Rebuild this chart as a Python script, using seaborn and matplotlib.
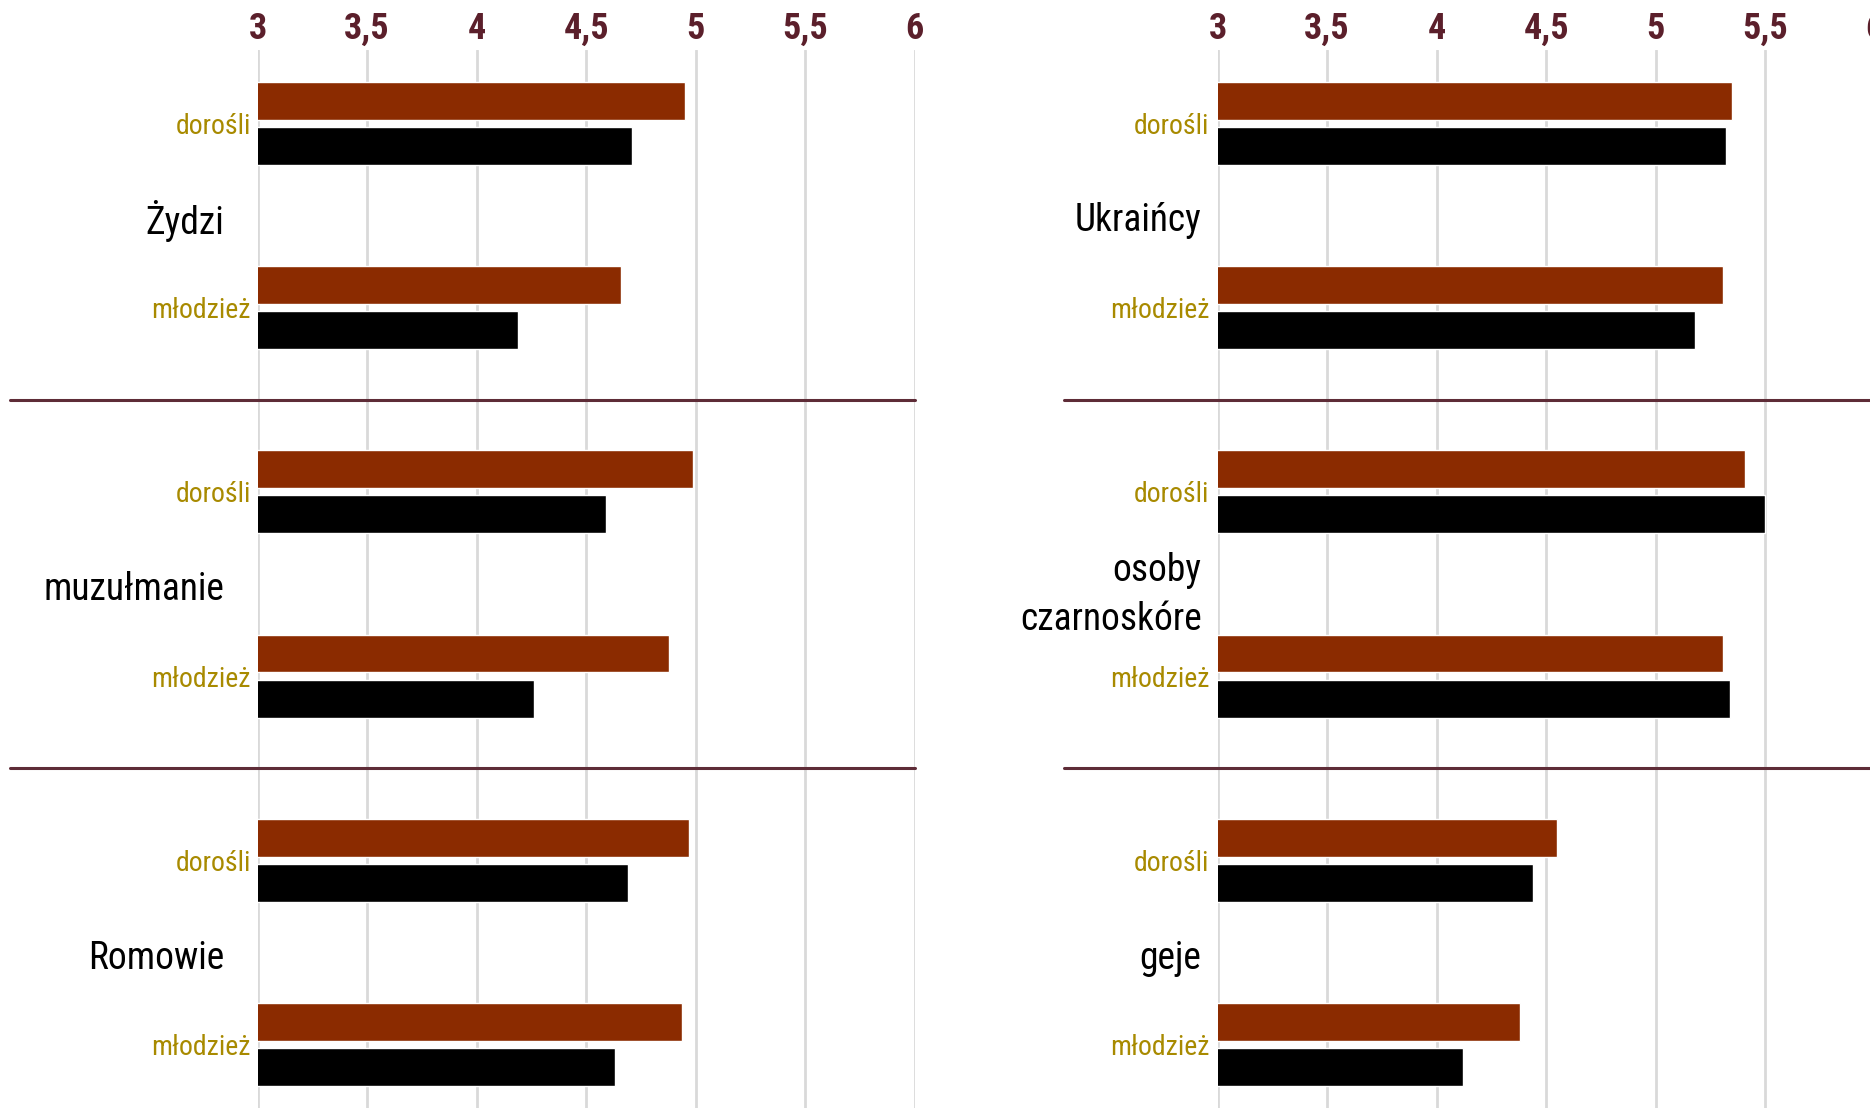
import numpy as np
import pandas as pd
import matplotlib
matplotlib.use("Agg")
import matplotlib.pyplot as plt
import seaborn as sns

# data
groups_left = ["Żydzi", "muzułmanie", "Romowie"]
groups_right = ["Ukraińcy", "osoby\nczarnoskóre", "geje"]
ages = ["dorośli", "młodzież"]
series = ["seria 1", "seria 2"]

# order: group1 dorośli, group1 młodzież, group2 dorośli, ...
red_left = [4.95, 4.66, 4.99, 4.88, 4.97, 4.94]
black_left = [4.71, 4.19, 4.59, 4.26, 4.69, 4.63]
red_right = [5.35, 5.31, 5.41, 5.31, 4.55, 4.38]
black_right = [5.32, 5.18, 5.50, 5.34, 4.44, 4.12]

ticks = [3, 3.5, 4, 4.5, 5, 5.5, 6]
tick_labels = ["3", "3,5", "4", "4,5", "5", "5,5", "6"]

MAROON = "#8b2b00"
TICKC = "#5b1f2b"
OLIVE = "#a88a00"
SEPC = "#5e2c37"

sns.set_style("white")
plt.rcParams["font.family"] = ["Roboto Condensed", "DejaVu Sans"]


def make_df(groups, red, black):
    rows = []
    for i, g in enumerate(groups):
        for j, a in enumerate(ages):
            k = i * 2 + j
            key = g + "|" + a
            rows.append({"row": key, "series": series[0], "value": red[k]})
            rows.append({"row": key, "series": series[1], "value": black[k]})
    return pd.DataFrame(rows)


fig = plt.figure(figsize=(18.7, 11.08), dpi=100)
W, H = 1870, 1108
ax_w = 657 / W
ax_l = fig.add_axes([257.6 / W, 0, ax_w, 1 - 50 / H])
ax_r = fig.add_axes([1217.6 / W, 0, ax_w, 1 - 50 / H])

panels = [
    (ax_l, groups_left, red_left, black_left, 5, -0.0505, -0.3775),
    (ax_r, groups_right, red_right, black_right, 6, -0.0245, -0.234),
]

for ax, groups, red, black, ypad, gx, sep_x in panels:
    df = make_df(groups, red, black)
    order = list(dict.fromkeys(df["row"]))
    sns.barplot(data=df, x="value", y="row", hue="series", order=order,
                hue_order=series, palette=[MAROON, "black"], orient="h",
                width=0.49, gap=0.16, saturation=1, errorbar=None,
                legend=False, ax=ax, zorder=3)
    ax.set_xlim(3, 6)
    ax.set_ylim(5.344, -0.398)
    ax.set_xlabel("")
    ax.set_ylabel("")
    for s in ax.spines.values():
        s.set_visible(False)
    ax.xaxis.tick_top()
    ax.set_xticks(ticks)
    ax.set_xticklabels(tick_labels, color=TICKC, fontsize=26,
                       fontweight="semibold")
    ax.tick_params(axis="x", length=0, pad=2)
    ax.grid(axis="x", color="#d9d9d9", lw=2, zorder=0)
    ax.grid(axis="y", visible=False)
    ax.set_axisbelow(True)
    ax.set_yticks(range(len(order)))
    ax.set_yticklabels(ages * len(groups), color=OLIVE, fontsize=20,
                       fontweight="normal")
    ax.tick_params(axis="y", length=0, pad=ypad)
    for i, g in enumerate(groups):
        shift = 0.06 if "\n" in g else 0.03
        ax.text(gx, i * 2 + 0.5 + shift, g,
                transform=ax.get_yaxis_transform(),
                ha="right", va="center", fontsize=27, fontweight="normal",
                color="black", linespacing=1.4)
    for y in (1.5, 3.5):
        ax.axhline(y, xmin=sep_x, xmax=1, color=SEPC, lw=2.2,
                   clip_on=False, zorder=4)

fig.savefig("out.png", dpi=100)
